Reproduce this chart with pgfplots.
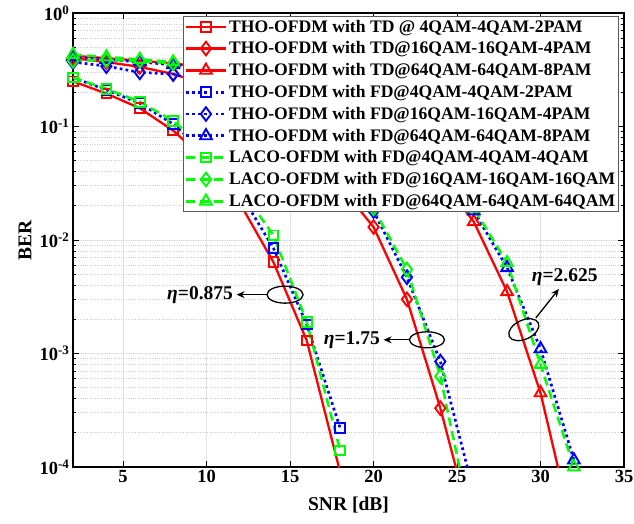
\documentclass[border=0pt]{standalone}
\usepackage{pgfplots}
\pgfplotsset{compat=1.18}
\usepackage{fontspec}
\setmainfont{Liberation Serif}
\usetikzlibrary{arrows.meta}
\definecolor{lgreen}{RGB}{0,255,0}

\pgfplotsset{
  tdline/.style={red, line width=2.3pt, mark options={solid, line width=1.9pt}},
  fdline/.style={blue, line width=2.7pt, dash pattern=on 2.7pt off 3.2pt, mark options={solid, line width=1.9pt}},
  lacoline/.style={lgreen, line width=2.5pt, dash pattern=on 9pt off 5pt, mark options={solid, line width=1.9pt}},
}
\newcommand{\etatext}[1]{\fontsize{19.5}{21}\selectfont\bfseries\itshape η\upshape =#1}

\begin{document}
\begin{tikzpicture}
\begin{axis}[
    scale only axis,
    width=551pt, height=454pt,
    ymode=log,
    xmin=2, xmax=35, ymin=1e-4, ymax=1,
    xtick={5,10,15,20,25,30,35},
    ytick={1e-4,1e-3,1e-2,1e-1,1},
    yticklabels={10\textsuperscript{-4},10\textsuperscript{-3},10\textsuperscript{-2},10\textsuperscript{-1},10\textsuperscript{0}},
    tick label style={font=\fontsize{18.5}{20}\selectfont\bfseries},
    xticklabel style={/pgf/number format/assume math mode=true},
    label style={font=\fontsize{19.5}{21}\selectfont\bfseries},
    xlabel={SNR [dB]}, ylabel={BER},
    xlabel style={at={(axis description cs:0.5,-0.083)}, anchor=center},
    ylabel style={at={(axis description cs:-0.087,0.5)}, anchor=center},
    axis line style={line width=1.1pt},
    major tick length=6pt, minor tick length=3.5pt,
    tick style={black, line width=0.8pt},
    xmajorgrids, ymajorgrids, yminorgrids,
    major grid style={gray!22, line width=1pt},
    minor grid style={gray!40, dotted, line width=0.8pt},
    legend style={at={(rel axis cs:0.991,0.9934)}, anchor=north east,
      draw=gray!70!black, line width=0.8pt, fill=white,
      font=\fontsize{17.6}{18.5}\selectfont\bfseries,
      inner sep=1.5pt, row sep=4.1pt},
    legend cell align=left,
    legend image code/.code={
      \draw[mark repeat=2,mark phase=2,#1] plot coordinates {(0cm,0cm) (0.7cm,0cm) (1.4cm,0cm)};
    },
]
% TD
\addplot[tdline, mark=square, mark size=4.8pt] coordinates {
 (2,0.25) (4,0.195) (6,0.145) (8,0.092) (10,0.05) (12,0.021) (14,0.0064) (16,0.0013) (18,9e-5)};
\addlegendentry{\textbf{THO-OFDM with TD @ 4QAM-4QAM-2PAM}}
\addplot[tdline, mark=diamond, mark size=6.8pt] coordinates {
 (2,0.40) (4,0.37) (6,0.335) (8,0.29) (10,0.235) (12,0.17) (14,0.11) (16,0.06) (18,0.03) (20,0.013) (22,0.003) (24,3.3e-4) (26,2.5e-5)};
\addlegendentry{\textbf{THO-OFDM with TD@16QAM-16QAM-4PAM}}
\addplot[tdline, mark=triangle, mark size=6.8pt] coordinates {
 (2,0.42) (4,0.40) (6,0.38) (8,0.36) (10,0.33) (12,0.30) (14,0.26) (16,0.21) (18,0.16) (20,0.11) (22,0.068) (24,0.035) (26,0.0145) (28,0.0035) (30,4.5e-4) (32,2.5e-5)};
\addlegendentry{\textbf{THO-OFDM with TD@64QAM-64QAM-8PAM}}
% FD
\addplot[fdline, mark=square, mark size=4.8pt] coordinates {
 (2,0.27) (4,0.21) (6,0.16) (8,0.105) (10,0.058) (12,0.026) (14,0.0085) (16,0.0018) (18,2.2e-4)};
\addlegendentry{\textbf{THO-OFDM with FD@4QAM-4QAM-2PAM}}
\addplot[fdline, mark=diamond, mark size=6.8pt] coordinates {
 (2,0.37) (4,0.34) (6,0.30) (8,0.29) (10,0.24) (12,0.18) (14,0.12) (16,0.07) (18,0.038) (20,0.018) (22,0.0047) (24,8.5e-4) (26,6e-5)};
\addlegendentry{\textbf{THO-OFDM with FD@16QAM-16QAM-4PAM}}
\addplot[fdline, mark=triangle, mark size=6.8pt] coordinates {
 (2,0.41) (4,0.39) (6,0.37) (8,0.35) (10,0.33) (12,0.30) (14,0.26) (16,0.215) (18,0.17) (20,0.12) (22,0.075) (24,0.04) (26,0.018) (28,0.0057) (30,0.0011) (32,1.15e-4)};
\addlegendentry{\textbf{THO-OFDM with FD@64QAM-64QAM-8PAM}}
% LACO
\addplot[lacoline, mark=square, mark size=4.8pt] coordinates {
 (2,0.27) (4,0.215) (6,0.165) (8,0.112) (10,0.062) (12,0.029) (14,0.011) (16,0.0019) (18,1.4e-4)};
\addlegendentry{\textbf{LACO-OFDM with FD@4QAM-4QAM-4QAM}}
\addplot[lacoline, mark=diamond, mark size=6.8pt] coordinates {
 (2,0.38) (4,0.385) (6,0.38) (8,0.36) (10,0.27) (12,0.19) (14,0.125) (16,0.072) (18,0.04) (20,0.019) (22,0.0055) (24,6.3e-4) (26,2.5e-5)};
\addlegendentry{\textbf{LACO-OFDM with FD@16QAM-16QAM-16QAM}}
\addplot[lacoline, mark=triangle, mark size=6.8pt] coordinates {
 (2,0.43) (4,0.41) (6,0.39) (8,0.37) (10,0.34) (12,0.31) (14,0.27) (16,0.22) (18,0.17) (20,0.12) (22,0.076) (24,0.042) (26,0.019) (28,0.0063) (30,8e-4) (32,1.0e-4)};
\addlegendentry{\textbf{LACO-OFDM with FD@64QAM-64QAM-64QAM}}

\coordinate (sw) at (rel axis cs:0,0);
\coordinate (ne) at (rel axis cs:1,1);
\coordinate (c1) at (axis cs:14.7,0.0033);
\coordinate (a1) at (axis cs:13.64,0.0033);
\coordinate (b1) at (axis cs:11.8,0.0033);
\coordinate (t1) at (axis cs:11.65,0.0033);
\coordinate (c2) at (axis cs:23.2,0.00132);
\coordinate (a2) at (axis cs:22.16,0.00132);
\coordinate (b2) at (axis cs:20.6,0.00132);
\coordinate (t2) at (axis cs:20.45,0.00132);
\coordinate (c3) at (axis cs:29.0,0.00162);
\coordinate (a3) at (axis cs:29.72,0.00206);
\coordinate (b3) at (axis cs:31.1,0.0037);
\coordinate (t3) at (axis cs:31.45,0.0047);
\end{axis}
\draw[line width=1.3pt] (c1) ellipse (18pt and 8.5pt);
\draw[line width=1.3pt,-{Stealth[length=8pt,width=7pt]}] (a1) -- (b1);
\node[anchor=east, inner sep=1pt] at (t1) {\etatext{0.875}};
\draw[line width=1.3pt] (c2) ellipse (17.5pt and 8pt);
\draw[line width=1.3pt,-{Stealth[length=8pt,width=7pt]}] (a2) -- (b2);
\node[anchor=east, inner sep=1pt] at (t2) {\etatext{1.75}};
\draw[line width=1.3pt, rotate around={25:(c3)}] (c3) ellipse (16pt and 9.5pt);
\draw[line width=1.3pt,-{Stealth[length=8pt,width=7pt]}] (a3) -- (b3);
\node[inner sep=1pt] at (t3) {\etatext{2.625}};
\pgfresetboundingbox
\path ([shift={(-73pt,-57pt)}]sw) rectangle ([shift={(10pt,13pt)}]ne);
\end{tikzpicture}
\end{document}
